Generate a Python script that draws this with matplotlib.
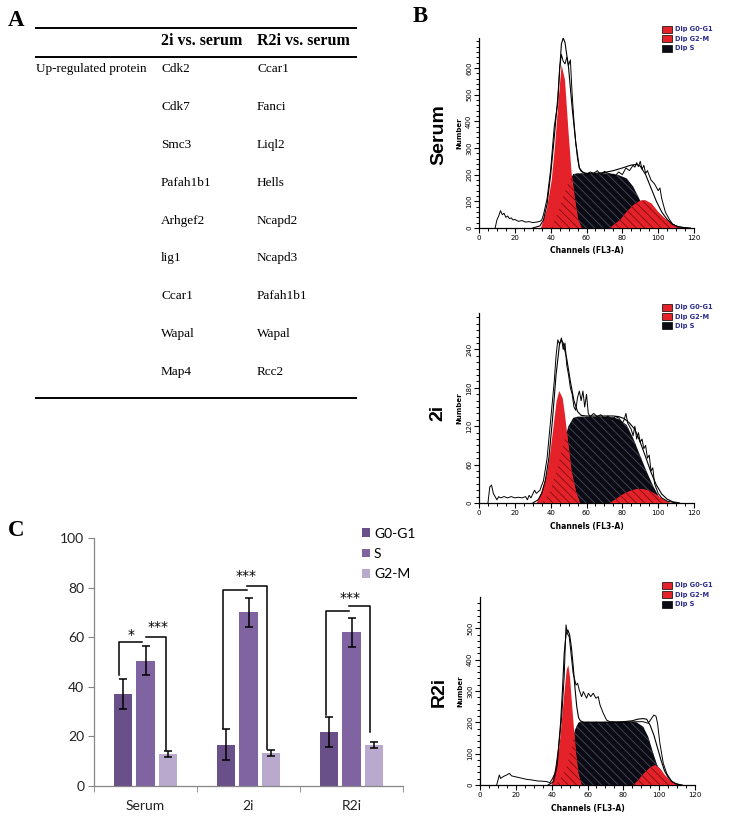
import numpy as np
import matplotlib
matplotlib.use("Agg")
import matplotlib.pyplot as plt
from matplotlib.lines import Line2D
from matplotlib.patches import Polygon, Patch, Rectangle

# ---------------- data ----------------
# Panel A table
col_headers = ["2i vs. serum", "R2i vs. serum"]
row_label = "Up-regulated protein"
proteins_2i = ["Cdk2", "Cdk7", "Smc3", "Pafah1b1", "Arhgef2", "lig1", "Ccar1", "Wapal", "Map4"]
proteins_r2i = ["Ccar1", "Fanci", "Liql2", "Hells", "Ncapd2", "Ncapd3", "Pafah1b1", "Wapal", "Rcc2"]

# Panel B histograms (channel, count)
serum_g1_ch = [34.6, 37.8, 40.6, 42.4, 44.3, 46.1, 48.0, 49.9, 51.7, 53.6, 55.4, 57.3]
serum_g1_val = [0, 68, 180, 305, 467, 611, 555, 367, 205, 105, 30, 0]
serum_s_ch = [40.5, 45.2, 48.9, 52.6, 55, 60, 65, 70, 75, 78, 82.4, 86.1, 89.8, 93.6, 98.2, 102.9, 106]
serum_s_val = [0, 80, 155, 202, 205, 205, 205, 205, 203, 198, 186, 155, 105, 55, 24, 5, 0]
serum_g2_ch = [73, 75, 78.7, 82.4, 86.1, 89.8, 92.6, 96.3, 100, 103.8, 107.5, 111, 113]
serum_g2_val = [0, 11, 30, 61, 86, 102, 105, 92, 61, 36, 17, 5, 0]
serum_fit_ch = [30, 34, 36, 38, 40, 42, 44, 46, 47, 48, 50, 52, 54, 56, 58, 60, 65, 70, 75, 80, 85, 88, 90, 93, 96, 99, 102, 105, 108, 111, 114, 118]
serum_fit_val = [0, 8, 30, 90, 200, 340, 490, 690, 712, 695, 600, 450, 320, 225, 208, 205, 205, 208, 215, 225, 236, 238, 232, 200, 150, 100, 60, 32, 14, 5, 2, 0]
serum_raw_ch = [9, 10, 11, 12, 13, 14, 15, 16, 17, 18, 19, 20, 22, 24, 26, 28, 30, 32, 34, 35, 36, 38, 40, 42, 44, 45, 46, 47, 48, 49, 50, 51, 52, 53, 54, 55, 56, 57, 58, 60, 62, 64, 66, 68, 70, 72, 74, 76, 78, 80, 82, 84, 86, 87, 88, 89, 90, 91, 92, 93, 94, 96, 98, 100, 101, 102, 104, 106, 108, 110, 112, 116]
serum_raw_val = [0, 30, 45, 65, 50, 55, 40, 45, 35, 38, 30, 32, 25, 28, 22, 24, 20, 22, 25, 30, 50, 110, 220, 380, 470, 600, 650, 625, 615, 640, 610, 630, 500, 400, 320, 260, 225, 212, 210, 200, 210, 205, 215, 200, 212, 205, 200, 195, 210, 200, 225, 215, 235, 228, 245, 230, 250, 220, 235, 205, 215, 180, 165, 140, 150, 110, 60, 35, 15, 8, 4, 0]

i2_g1_ch = [32.2, 35, 37.8, 39.6, 41.5, 43.3, 44.8, 46.7, 48, 49.9, 51.7, 54.1, 56.4]
i2_g1_val = [0, 18, 44, 75, 117, 159, 175, 164, 138, 91, 49, 18, 0]
i2_s_ch = [35, 39.6, 43.3, 47, 49.9, 52.6, 55, 60, 65, 70, 75, 78, 82.4, 86.1, 89.8, 93.6, 97.3, 101, 104.7]
i2_s_val = [0, 18, 49, 91, 120, 133, 135, 135, 135, 135, 134, 131, 122, 101, 75, 49, 26, 7, 0]
i2_g2_ch = [73, 76.8, 80.5, 84.3, 88, 91.7, 95.4, 99.1, 102.9, 106.6]
i2_g2_val = [0, 7, 14, 19, 22, 22, 19, 13, 6, 0]
i2_fit_ch = [30, 33, 35, 37, 39, 41, 43, 45, 46, 47, 49, 51, 53, 55, 57, 60, 65, 70, 75, 78, 81, 84, 87, 90, 93, 96, 99, 102, 105, 108, 112]
i2_fit_val = [0, 5, 15, 35, 70, 130, 200, 250, 255, 250, 225, 190, 160, 143, 137, 136, 136, 136, 136, 135, 132, 125, 115, 95, 72, 48, 28, 14, 6, 2, 0]
i2_raw_ch = [5, 6, 7, 8, 9, 10, 11, 12, 14, 16, 18, 20, 22, 24, 26, 27, 28, 29, 30, 31, 32, 34, 36, 38, 40, 42, 43, 44, 45, 46, 47, 48, 49, 50, 51, 52, 53, 54, 55, 56, 57, 58, 59, 60, 61, 62, 64, 66, 68, 70, 72, 74, 76, 78, 80, 81, 82, 83, 84, 85, 86, 87, 88, 89, 90, 91, 92, 93, 94, 95, 96, 97, 98, 100, 102, 105, 110]
i2_raw_val = [0, 25, 28, 15, 10, 5, 10, 8, 10, 8, 10, 8, 9, 8, 10, 5, 12, 8, 14, 20, 15, 20, 35, 70, 130, 190, 230, 255, 248, 258, 240, 250, 215, 200, 180, 170, 150, 145, 165, 175, 160, 175, 150, 170, 140, 135, 140, 135, 138, 132, 136, 130, 135, 133, 125, 130, 140, 125, 120, 115, 105, 120, 100, 110, 95, 100, 85, 90, 70, 75, 50, 55, 30, 15, 8, 3, 0]

r2i_g1_ch = [40, 40.9, 42.8, 44.3, 45.6, 46.9, 48.4, 49.3, 50.2, 51.2, 52.5, 53.6, 54.9, 56.7]
r2i_g1_val = [0, 27, 69, 122, 197, 282, 367, 383, 346, 271, 176, 101, 37, 0]
r2i_s_ch = [42.4, 45.6, 48.4, 51.2, 53, 54.9, 56, 60, 65, 70, 75, 80, 85, 87.4, 91.1, 93.9, 96.7, 98.6, 101.4, 104.2, 106]
r2i_s_val = [0, 27, 59, 122, 176, 199, 202, 202, 202, 202, 202, 202, 202, 200, 186, 154, 101, 69, 32, 11, 0]
r2i_g2_ch = [85.6, 88.4, 91.1, 94.9, 97.7, 100.4, 103.2, 106, 108.8, 110.7]
r2i_g2_val = [0, 16, 35, 56, 64, 53, 32, 16, 5, 0]
r2i_fit_ch = [38, 41, 43, 45, 46, 47, 48, 49, 50, 51, 52, 53, 54, 55, 56, 58, 60, 65, 70, 75, 80, 85, 88, 91, 93, 95, 97, 99, 101, 103, 105, 107, 109, 112]
r2i_fit_val = [0, 10, 60, 200, 300, 420, 480, 495, 480, 440, 380, 310, 250, 215, 205, 200, 200, 200, 200, 200, 202, 205, 210, 212, 210, 190, 160, 120, 80, 45, 25, 12, 5, 0]
r2i_raw_ch = [9.3, 10.8, 11.5, 13, 14.9, 16.4, 17.7, 20, 23, 26, 29, 32, 35, 37.2, 39, 40, 41.9, 43.7, 45.6, 47, 48, 48.7, 49.8, 50.8, 52, 53.6, 54.5, 55.4, 56.7, 57.7, 59.5, 60.5, 61.8, 63.2, 64.7, 66, 67, 68.8, 70.7, 72.5, 80, 87.4, 91, 93.9, 95.8, 97, 98.2, 99.1, 100.4, 102.3, 104.2, 107, 109.7, 113]
r2i_raw_val = [0, 32, 21, 27, 32, 37, 29, 26, 22, 18, 16, 13, 12, 11, 7, 16, 37, 112, 218, 346, 511, 484, 473, 420, 356, 319, 325, 303, 282, 298, 277, 293, 282, 293, 277, 282, 255, 229, 207, 202, 200, 202, 202, 197, 213, 223, 220, 197, 133, 69, 37, 11, 3, 0]

hist_legend_labels = ["Dip G0-G1", "Dip G2-M", "Dip S"]

# Panel C bar chart
categories = ["Serum", "2i", "R2i"]
phases = ["G0-G1", "S", "G2-M"]
g0g1_pct = [37.1, 16.7, 21.8]
s_pct = [50.5, 70.0, 61.9]
g2m_pct = [12.8, 13.3, 16.4]
g0g1_err = [6.2, 6.3, 6.2]
s_err = [5.8, 5.8, 5.8]
g2m_err = [1.3, 1.2, 1.2]
sig_labels_left = ["*", "", ""]
sig_labels_right = ["***", "***", "***"]

# ---------------- figure ----------------
W, H = 729, 840
fig = plt.figure(figsize=(W / 100, H / 100), dpi=100)
fig.patch.set_facecolor("white")


def fx(x):
    return x / W


def fy(y):
    return 1 - y / H


serif = ["Liberation Serif", "DejaVu Serif"]

# ---- Panel A ----
fig.text(fx(8), fy(20), "A", family=serif, weight="bold", fontsize=16.5, va="center", ha="left")
for yy, lw in [(28, 1.4), (57, 1.4), (398, 1.4)]:
    fig.add_artist(Line2D([fx(36), fx(356)], [fy(yy), fy(yy)], color="black", lw=lw,
                          transform=fig.transFigure))
fig.text(fx(161), fy(41), col_headers[0], family=serif, weight="bold", fontsize=11.5, va="center")
fig.text(fx(257), fy(41), col_headers[1], family=serif, weight="bold", fontsize=11.5, va="center")
fig.text(fx(36), fy(69), row_label, family=serif, fontsize=9.5, va="center")
for i, (a, b) in enumerate(zip(proteins_2i, proteins_r2i)):
    yy = 69 + i * 37.9
    fig.text(fx(161), fy(yy), a, family=serif, fontsize=9.5, va="center")
    fig.text(fx(257), fy(yy), b, family=serif, fontsize=9.5, va="center")

# ---- Panel B ----
fig.text(fx(413), fy(16), "B", family=serif, weight="bold", fontsize=16.5, va="center", ha="left")

RED = "#E5222A"
DARKRED = "#7A0E10"
BLACKF = "#0B0B16"
HATCHGRAY = "#4A4A58"
HATCH = "\\\\\\\\"
plt.rcParams["hatch.linewidth"] = 0.6


def draw_hist(left, right, bottom, top, ymax, major, minor, g1, s, g2, fit, raw,
              name, name_x, name_y, leg_y):
    ax = fig.add_axes([fx(left), fy(bottom), fx(right) - fx(left), fy(top) - fy(bottom)])
    ax.set_xlim(0, 120)
    ax.set_ylim(0, ymax)
    for sp in ["top", "right"]:
        ax.spines[sp].set_visible(False)
    for sp in ["left", "bottom"]:
        ax.spines[sp].set_linewidth(0.9)
    ax.set_facecolor("none")
    # S phase
    sp_poly = Polygon(np.column_stack([s[0], s[1]]), closed=True, facecolor=BLACKF,
                      edgecolor=HATCHGRAY, hatch=HATCH, lw=0, zorder=1)
    ax.add_patch(sp_poly)
    # G0-G1 solid
    ax.add_patch(Polygon(np.column_stack([g1[0], g1[1]]), closed=True, facecolor=RED,
                         edgecolor=RED, lw=0, zorder=2))
    # overlap of G1 and S: red hatched
    ov = Polygon(np.column_stack([g1[0], g1[1]]), closed=True, facecolor=RED,
                 edgecolor=DARKRED, hatch=HATCH, lw=0, zorder=3)
    ax.add_patch(ov)
    ov.set_clip_path(sp_poly)
    # G2-M hatched
    ax.add_patch(Polygon(np.column_stack([g2[0], g2[1]]), closed=True, facecolor=RED,
                         edgecolor=DARKRED, hatch=HATCH, lw=0, zorder=3))
    ax.plot(fit[0], fit[1], color="black", lw=0.8, zorder=5)
    ax.plot(raw[0], raw[1], color="black", lw=0.7, zorder=6)
    ax.set_xticks(np.arange(0, 121, 20))
    ax.set_xticks(np.arange(0, 121, 5), minor=True)
    ax.set_yticks(major)
    ax.set_yticks(np.arange(0, ymax, minor), minor=True)
    ax.tick_params(axis="both", which="major", length=3.5, width=0.8, labelsize=5, pad=1.5)
    ax.tick_params(axis="both", which="minor", length=2, width=0.7)
    for lab in ax.get_yticklabels():
        lab.set_rotation(90)
        lab.set_va("center")
    ax.set_xlabel("Channels (FL3-A)", fontsize=5.5, weight="bold", family="DejaVu Sans", labelpad=4)
    ax.set_ylabel("Number", fontsize=5, weight="bold", family="DejaVu Sans", labelpad=3)
    fig.text(fx(name_x), fy(name_y), name, rotation=90, family="Liberation Sans", weight="bold",
             fontsize=14, ha="center", va="center")
    # legend boxes
    for k, lab in enumerate(hist_legend_labels):
        yy = leg_y + k * 9.5
        fc = BLACKF if k == 2 else RED
        fig.add_artist(Rectangle((fx(662), fy(yy + 3.5)), fx(10), 7 / H, facecolor=fc,
                                 edgecolor="black", lw=0.5, transform=fig.transFigure))
        fig.text(fx(675), fy(yy), lab, fontsize=4.8, color="#2B2B8C", family="DejaVu Sans",
                 weight="bold", va="center")
    return ax


draw_hist(479, 694, 228, 38, 712, np.arange(0, 601, 100), 20,
          (serum_g1_ch, serum_g1_val), (serum_s_ch, serum_s_val), (serum_g2_ch, serum_g2_val),
          (serum_fit_ch, serum_fit_val), (serum_raw_ch, serum_raw_val),
          "Serum", 439, 135, 29)
draw_hist(479, 694, 503, 313, 297, np.arange(0, 241, 60), 10,
          (i2_g1_ch, i2_g1_val), (i2_s_ch, i2_s_val), (i2_g2_ch, i2_g2_val),
          (i2_fit_ch, i2_fit_val), (i2_raw_ch, i2_raw_val),
          "2i", 438, 413, 307)
draw_hist(480, 695, 785, 597, 600, np.arange(0, 501, 100), 20,
          (r2i_g1_ch, r2i_g1_val), (r2i_s_ch, r2i_s_val), (r2i_g2_ch, r2i_g2_val),
          (r2i_fit_ch, r2i_fit_val), (r2i_raw_ch, r2i_raw_val),
          "R2i", 439, 692, 585)

# ---- Panel C ----
fig.text(fx(8), fy(530), "C", family=serif, weight="bold", fontsize=16.5, va="center", ha="left")
sans = ["Lato", "DejaVu Sans"]
axc = fig.add_axes([fx(94), fy(786), fx(403) - fx(94), fy(538) - fy(786)])
colors = ["#6A5088", "#8064A2", "#B9AACD"]
x = np.arange(len(categories))
width = 0.175
offs = [-0.223, 0.0, 0.223]
series = [g0g1_pct, s_pct, g2m_pct]
errs = [g0g1_err, s_err, g2m_err]
for vals, er, off, col, lab in zip(series, errs, offs, colors, phases):
    axc.bar(x + off, vals, width, color=col, label=lab, zorder=2)
    axc.errorbar(x + off, vals, yerr=er, fmt="none", ecolor="black", elinewidth=1.1,
                 capsize=2.8, capthick=1.1, zorder=3)
axc.set_xlim(-0.5, 2.5)
axc.set_ylim(0, 100)
axc.set_yticks(np.arange(0, 101, 20))
axc.set_xticks(x)
axc.set_xticklabels(categories)
axc.set_xticks([-0.5, 0.5, 1.5, 2.5], minor=True)
axc.tick_params(axis="x", which="major", length=0, pad=10)
axc.tick_params(axis="x", which="minor", length=4, color="#868686")
axc.tick_params(axis="y", length=4, color="#868686", pad=3)
for lab in axc.get_xticklabels() + axc.get_yticklabels():
    lab.set_family(sans)
    lab.set_fontsize(10)
    lab.set_color("#222222")
for sp in ["top", "right"]:
    axc.spines[sp].set_visible(False)
for sp in ["left", "bottom"]:
    axc.spines[sp].set_color("#868686")
    axc.spines[sp].set_linewidth(0.9)

# significance brackets (positions relative to each group)
left_brk = [(-0.257, 44.8, 57.9, -0.031), (-0.251, 23.5, 78.9, -0.018), (-0.251, 28.5, 70.7, -0.024)]
right_brk = [(0.008, 60.0, 0.202, 14.5), (-0.018, 80.6, 0.176, 14.8), (-0.024, 72.4, 0.183, 21.9)]
star_left_pos = [(-0.145, 61.0), None, None]
star_right_pos = [(0.121, 64.0), (-0.024, 84.5), (-0.011, 76.0)]
for i in range(len(categories)):
    xl, y0, y1, xr = left_brk[i]
    axc.plot([i + xl, i + xl, i + xr], [y0, y1, y1], color="black", lw=1.1, zorder=4)
    xa, yh, xb, yb = right_brk[i]
    axc.plot([i + xa, i + xb, i + xb], [yh, yh, yb], color="black", lw=1.1, zorder=4)
    if star_left_pos[i] is not None and sig_labels_left[i]:
        axc.text(i + star_left_pos[i][0], star_left_pos[i][1], sig_labels_left[i],
                 ha="center", va="center", fontsize=10, family="DejaVu Sans")
    axc.text(i + star_right_pos[i][0], star_right_pos[i][1], sig_labels_right[i],
             ha="center", va="center", fontsize=10, family="DejaVu Sans")

axc.legend(loc="upper left", bbox_to_anchor=(fx(349), fy(515)), bbox_transform=fig.transFigure,
           frameon=False, handlelength=0.6, handleheight=0.6, handletextpad=0.3,
           labelspacing=0.6, prop={"family": sans, "size": 10})

fig.savefig("out.png", dpi=100)
